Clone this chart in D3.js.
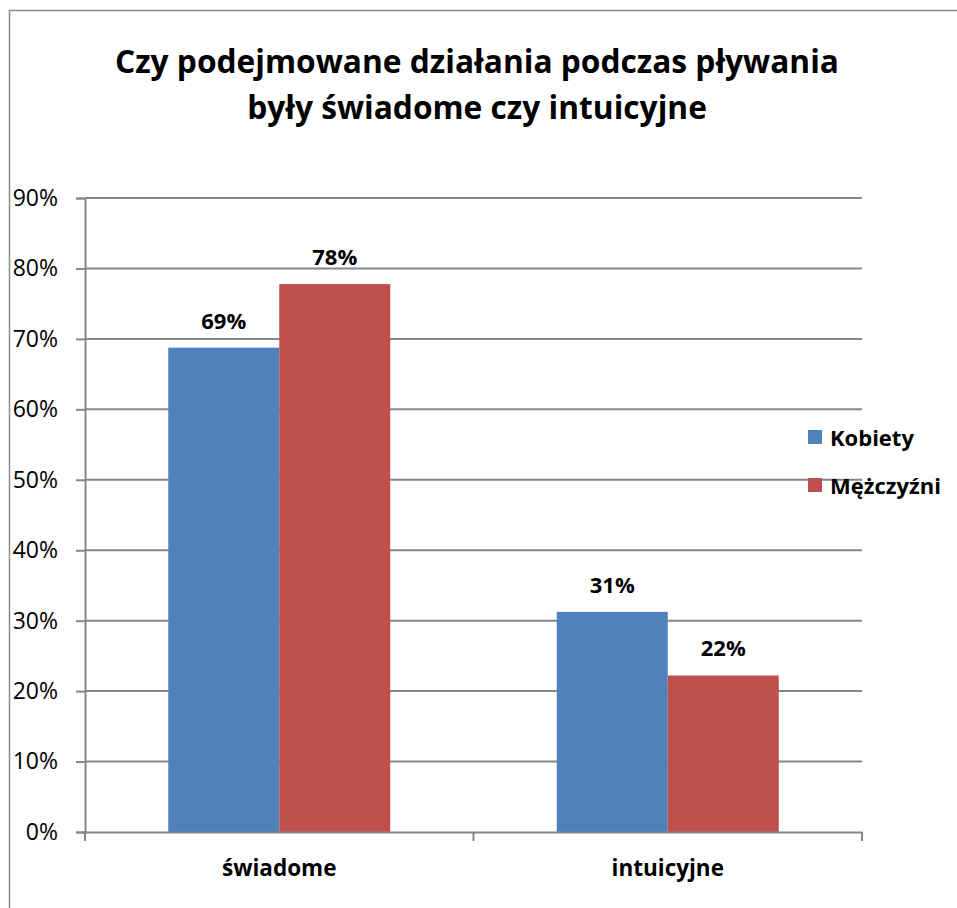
<!DOCTYPE html>
<html>
<head>
<meta charset="utf-8">
<script src="https://cdn.jsdelivr.net/npm/d3@7"></script>
<style>
  body { margin: 0; background: #fff; }
  text { font-family: "Open Sans", "Noto Sans", sans-serif; }
</style>
</head>
<body>
<div id="chart"></div>
<script>
// data
var categories = ["świadome", "intuicyjne"]
var seriesNames = ["Kobiety", "Mężczyźni"]
var kobiety = [68.75, 31.25]
var mezczyzni = [77.78, 22.22]
var yTicks = [0, 10, 20, 30, 40, 50, 60, 70, 80, 90]
var titleLines = ["Czy podejmowane działania podczas pływania", "były świadome czy intuicyjne"]

var colors = ["#4f81bd", "#c0504d"]

var svgWidth = 957
var svgHeight = 908

var margin = { top: 198, right: 95, bottom: 76, left: 85 }
var width = 862 - margin.left
var height = 832 - margin.top

var svg = d3.select("#chart")
  .append("svg")
  .attr("width", svgWidth)
  .attr("height", svgHeight)

// outer border
svg.append("rect")
  .attr("x", 9.5)
  .attr("y", 10.5)
  .attr("width", svgWidth + 20)
  .attr("height", svgHeight + 20)
  .attr("fill", "none")
  .attr("stroke", "#8c8c8c")
  .attr("stroke-width", 1.5)

// title
svg.append("g")
  .selectAll("text")
  .data(titleLines)
  .enter()
  .append("text")
  .attr("x", 477)
  .attr("y", (d, i) => 73 + i * 46)
  .attr("text-anchor", "middle")
  .attr("font-size", "31.7px")
  .attr("font-weight", "bold")
  .text(d => d)

var chartGroup = svg.append("g")
  .attr("transform", `translate(${margin.left}, ${margin.top})`)

// scales
var x0 = d3.scaleBand()
  .domain(categories)
  .range([0, width])

var x1 = d3.scaleBand()
  .domain(seriesNames)
  .range([0, 222])

var y = d3.scaleLinear()
  .domain([0, 90])
  .range([height, 0])

// gridlines
chartGroup.append("g")
  .selectAll("line")
  .data(yTicks.slice(1))
  .enter()
  .append("line")
  .attr("x1", 0)
  .attr("x2", width)
  .attr("y1", d => y(d))
  .attr("y2", d => y(d))
  .attr("stroke", "#868686")
  .attr("stroke-width", 2)

// y axis
var leftAxis = d3.axisLeft(y)
  .tickValues(yTicks)
  .tickSize(9)
  .tickPadding(18)
  .tickFormat(d => d + "%")

var yAxis = chartGroup.append("g").call(leftAxis)
yAxis.select(".domain").attr("stroke", "#868686").attr("stroke-width", 2)
yAxis.selectAll(".tick line").attr("stroke", "#868686").attr("stroke-width", 2)
yAxis.selectAll(".tick text")
  .attr("font-size", "23px")
  .attr("fill", "#000")
  .style("font-family", "'Open Sans', 'Noto Sans', sans-serif")

// bars
var rows = categories.map((c, i) => ({ cat: c, vals: [kobiety[i], mezczyzni[i]] }))

var groups = chartGroup.selectAll(".cat")
  .data(rows)
  .enter()
  .append("g")
  .attr("transform", d => `translate(${x0(d.cat) + (x0.bandwidth() - 222) / 2}, 0)`)

groups.selectAll("rect")
  .data(d => d.vals.map((v, j) => ({ name: seriesNames[j], value: v, j: j })))
  .enter()
  .append("rect")
  .attr("x", d => x1(d.name))
  .attr("y", d => y(d.value))
  .attr("width", x1.bandwidth())
  .attr("height", d => height - y(d.value))
  .attr("fill", d => colors[d.j])

groups.selectAll(".lbl")
  .data(d => d.vals.map((v, j) => ({ name: seriesNames[j], value: v })))
  .enter()
  .append("text")
  .attr("class", "lbl")
  .attr("x", d => x1(d.name) + x1.bandwidth() / 2)
  .attr("y", d => y(d.value) - 19)
  .attr("text-anchor", "middle")
  .attr("font-size", "22px")
  .attr("font-weight", "bold")
  .text(d => Math.round(d.value) + "%")

// x axis
var bottomAxis = d3.axisBottom(x0).tickSize(0).tickPadding(28)
var xAxis = chartGroup.append("g")
  .attr("transform", `translate(0, ${height})`)
  .call(bottomAxis)
xAxis.select(".domain").attr("stroke", "#868686").attr("stroke-width", 2)
xAxis.selectAll(".tick text")
  .attr("font-size", "22.5px")
  .attr("font-weight", "bold")
  .attr("fill", "#000")
  .style("font-family", "'Open Sans', 'Noto Sans', sans-serif")

// category separators ticks
chartGroup.append("g")
  .selectAll("line")
  .data([0, width / 2, width])
  .enter()
  .append("line")
  .attr("x1", d => d)
  .attr("x2", d => d)
  .attr("y1", height)
  .attr("y2", height + 9)
  .attr("stroke", "#868686")
  .attr("stroke-width", 2)

// legend
var legend = svg.append("g")
  .attr("transform", "translate(808, 430)")

var legendItems = legend.selectAll("g")
  .data(seriesNames)
  .enter()
  .append("g")
  .attr("transform", (d, i) => `translate(0, ${i * 48})`)

legendItems.append("rect")
  .attr("width", 14)
  .attr("height", 14)
  .attr("fill", (d, i) => colors[i])

legendItems.append("text")
  .attr("x", 22)
  .attr("y", 16)
  .attr("font-size", "22px")
  .attr("font-weight", "bold")
  .text(d => d)
</script>
</body>
</html>
